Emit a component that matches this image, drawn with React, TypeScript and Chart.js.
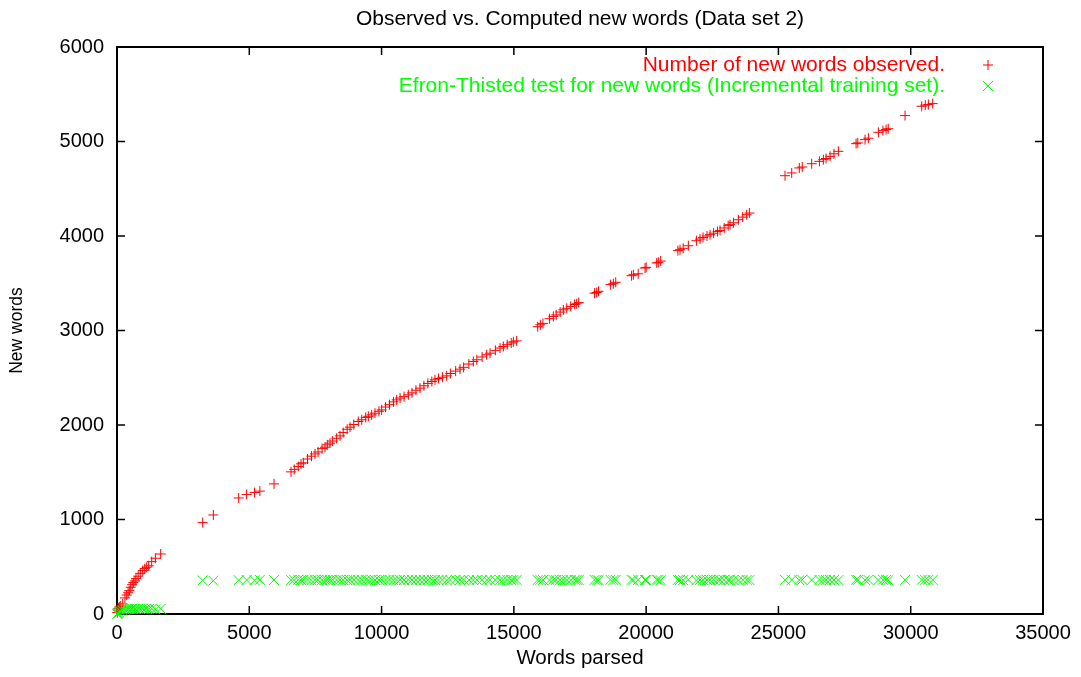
import React, { useEffect, useRef } from "react";
import { Chart, registerables } from "chart.js";

Chart.register(...registerables);

const FONT = "'Liberation Sans', Arial, Helvetica, sans-serif";

const chartTitle = "Observed vs. Computed new words (Data set 2)";
const xAxisLabel = "Words parsed";
const yAxisLabel = "New words";
const observedLabel = "Number of new words observed.";
const efronLabel = "Efron-Thisted test for new words (Incremental training set).";

const xTickValues = [0, 5000, 10000, 15000, 20000, 25000, 30000, 35000];
const yTickValues = [0, 1000, 2000, 3000, 4000, 5000, 6000];

const wordsParsed = [
  10, 30, 50, 90, 140, 215, 300, 365, 420, 465, 518, 570, 616, 680, 718, 800, 880, 971, 1050, 1122, 1200, 1311, 1450, 1651,
  3239, 3641,
  4600, 4900, 5200, 5400, 5935,
  6577, 6700, 6850, 6955, 7043, 7200, 7350, 7484, 7600, 7750,
  7862, 7950, 8051, 8150, 8300, 8429, 8550, 8700, 8807, 8950,
  9121, 9250, 9400, 9500, 9625, 9750, 9900, 10003, 10150, 10300,
  10450, 10570, 10700, 10850, 11011, 11150, 11300, 11453, 11600, 11750,
  11900, 12020, 12150, 12300, 12461, 12600, 12800, 12965, 13100, 13300,
  13469, 13600, 13800, 13973, 14100, 14300, 14477, 14603, 14750, 14900, 14981, 15107,
  15900, 16000, 16100, 16350, 16493, 16600, 16750, 16871, 17000, 17150, 17300, 17375, 17450,
  18050, 18131, 18200, 18650, 18761, 18850, 19450, 19517, 19700, 19958, 20000, 20400, 20462, 20550,
  21200, 21281, 21400, 21596, 21900, 22037, 22150, 22300, 22415, 22550,
  22700, 22793, 22950, 23100, 23171, 23300, 23486, 23650, 23800, 23903,
  25250, 25502, 25789, 25900, 26257, 26550, 26699, 26800, 26951, 27100, 27266, 27935,
  28000, 28274, 28400, 28778, 28950, 29069, 29150, 29786, 30415, 30550, 30667, 30831,
];

const observedNewWords = [
  15, 40, 60, 75, 85, 106, 170, 201, 225, 247, 283, 310, 332, 350, 374, 400, 430, 459, 480, 494, 510, 554, 590, 635,
  967, 1048,
  1228, 1265, 1285, 1300, 1377,
  1504, 1530, 1560, 1589, 1600, 1640, 1670, 1694, 1715, 1750,
  1765, 1790, 1808, 1830, 1860, 1885, 1920, 1955, 1977, 2005,
  2037, 2055, 2080, 2092, 2107, 2125, 2145, 2160, 2190, 2215,
  2245, 2266, 2285, 2300, 2319, 2340, 2368, 2390, 2415, 2440,
  2460, 2478, 2492, 2505, 2520, 2545, 2570, 2591, 2610, 2645,
  2672, 2690, 2720, 2743, 2760, 2790, 2814, 2831, 2850, 2868, 2880, 2890,
  3040, 3060, 3075, 3125, 3149, 3165, 3195, 3219, 3235, 3255, 3275, 3283, 3295,
  3395, 3402, 3415, 3485, 3495, 3510, 3580, 3590, 3600, 3661, 3668, 3715, 3721, 3735,
  3845, 3855, 3870, 3897, 3950, 3968, 3985, 4000, 4014, 4030,
  4048, 4059, 4085, 4110, 4120, 4140, 4172, 4200, 4225, 4243,
  4638, 4667, 4720, 4730, 4765, 4790, 4808, 4820, 4843, 4870, 4896, 4977,
  4985, 5020, 5035, 5097, 5115, 5126, 5135, 5274, 5373, 5385, 5391, 5401,
];

const efronThistedEstimate = [
  0, 5, 12, 20, 28, 38, 45, 50, 52, 55, 50, 55, 52, 55, 50, 55, 52, 55, 50, 55, 52, 55, 50, 55,
  355, 352,
  358, 360, 357, 361, 359,
  358, 360, 362, 359, 361, 360, 358, 362, 360, 359,
  361, 360, 358, 362, 359, 361, 360, 358, 361, 360,
  359, 362, 360, 358, 361, 360, 359, 362, 360, 361,
  358, 360, 361, 359, 362, 360, 358, 361, 360, 359,
  362, 360, 359, 361, 358, 360, 362, 359, 361, 360,
  358, 361, 360, 359, 362, 360, 358, 361, 360, 359, 361, 360,
  359, 361, 360, 358, 362, 360, 359, 361, 360, 358, 361, 360, 359,
  361, 360, 358, 362, 359, 361, 360, 358, 361, 360, 359, 362, 360, 358,
  361, 360, 359, 362, 358, 360, 361, 359, 360, 362,
  358, 361, 360, 359, 362, 360, 358, 361, 360, 359,
  361, 360, 358, 362, 359, 361, 360, 358, 361, 360, 359, 362,
  360, 358, 361, 359, 362, 360, 358, 361, 360, 359, 361, 360,
];

const RED = "#ff0000";
const GREEN = "#00ff00";

const gnuplotPlugin = {
  id: "gnuplotDecor",
  beforeDatasetsDraw(chart: any) {
    const { ctx, chartArea: a, scales } = chart;
    const xs = scales.x;
    const ys = scales.y;
    ctx.save();
    ctx.strokeStyle = "#000";
    ctx.lineWidth = 1.5;
    ctx.beginPath();
    const tl = 8;
    for (const v of xTickValues) {
      const px = xs.getPixelForValue(v);
      ctx.moveTo(px, a.bottom);
      ctx.lineTo(px, a.bottom - tl);
      ctx.moveTo(px, a.top);
      ctx.lineTo(px, a.top + tl);
    }
    for (const v of yTickValues) {
      const py = ys.getPixelForValue(v);
      ctx.moveTo(a.left, py);
      ctx.lineTo(a.left + tl, py);
      ctx.moveTo(a.right, py);
      ctx.lineTo(a.right - tl, py);
    }
    ctx.stroke();
    ctx.lineWidth = 2;
    ctx.strokeRect(a.left, a.top, a.right - a.left, a.bottom - a.top);
    ctx.restore();
  },
  afterDraw(chart: any) {
    const { ctx, chartArea: a } = chart;
    ctx.save();
    ctx.fillStyle = "#000";
    ctx.font = `21px ${FONT}`;
    ctx.textAlign = "center";
    ctx.textBaseline = "middle";
    ctx.fillText(chartTitle, (a.left + a.right) / 2, 19);
    ctx.textAlign = "right";
    const textX = 945;
    const markX = 988;
    const rows = [
      { text: observedLabel, color: RED, style: "plus", y: 65 },
      { text: efronLabel, color: GREEN, style: "x", y: 86 },
    ];
    for (const r of rows) {
      ctx.fillStyle = r.color;
      ctx.fillText(r.text, textX, r.y);
      ctx.strokeStyle = r.color;
      ctx.lineWidth = 1;
      ctx.beginPath();
      if (r.style === "plus") {
        ctx.moveTo(markX - 5, r.y);
        ctx.lineTo(markX + 5, r.y);
        ctx.moveTo(markX, r.y - 5);
        ctx.lineTo(markX, r.y + 5);
      } else {
        ctx.moveTo(markX - 5, r.y - 5);
        ctx.lineTo(markX + 5, r.y + 5);
        ctx.moveTo(markX - 5, r.y + 5);
        ctx.lineTo(markX + 5, r.y - 5);
      }
      ctx.stroke();
    }
    ctx.restore();
  },
};

export default function App() {
  const canvasRef = useRef<HTMLCanvasElement | null>(null);

  useEffect(() => {
    const canvas = canvasRef.current;
    if (!canvas) return;
    const observedData = wordsParsed.map((x, i) => ({ x, y: observedNewWords[i] }));
    const efronData = wordsParsed.map((x, i) => ({ x, y: efronThistedEstimate[i] }));

    const chart = new Chart(canvas, {
      type: "scatter",
      data: {
        datasets: [
          {
            label: observedLabel,
            data: observedData,
            pointStyle: "cross",
            pointRadius: 5,
            pointHoverRadius: 5,
            pointBorderWidth: 1,
            borderColor: RED,
            backgroundColor: RED,
            showLine: false,
            clip: false as any,
            order: 2,
          },
          {
            label: efronLabel,
            data: efronData,
            pointStyle: "crossRot",
            pointRadius: 7,
            pointHoverRadius: 7,
            pointBorderWidth: 1,
            borderColor: GREEN,
            backgroundColor: GREEN,
            showLine: false,
            clip: false as any,
            order: 1,
          },
        ],
      },
      options: {
        responsive: false,
        animation: false,
        devicePixelRatio: 1,
        layout: { padding: { top: 47, right: 38, bottom: 0, left: 0 } },
        plugins: {
          legend: { display: false },
          tooltip: { enabled: false },
          title: { display: false },
        },
        scales: {
          x: {
            type: "linear",
            min: 0,
            max: 35000,
            afterBuildTicks: (s: any) => {
              s.ticks = xTickValues.map((v) => ({ value: v }));
            },
            afterFit: (s: any) => {
              s.height = 63;
            },
            grid: { display: false, drawTicks: false },
            border: { display: false },
            ticks: {
              autoSkip: false,
              maxRotation: 0,
              padding: 7,
              color: "#000",
              font: { family: FONT, size: 20 },
              callback: (v: any) => String(v),
            },
            title: {
              display: true,
              text: xAxisLabel,
              color: "#000",
              font: { family: FONT, size: 20.5 },
              padding: { top: 0, bottom: 6 },
            },
          },
          y: {
            type: "linear",
            min: 0,
            max: 6000,
            afterBuildTicks: (s: any) => {
              s.ticks = yTickValues.map((v) => ({ value: v }));
            },
            afterFit: (s: any) => {
              s.width = 117;
            },
            grid: { display: false, drawTicks: false },
            border: { display: false },
            ticks: {
              autoSkip: false,
              padding: 13,
              color: "#000",
              font: { family: FONT, size: 20 },
              callback: (v: any) => String(v),
            },
            title: {
              display: true,
              text: yAxisLabel,
              color: "#000",
              font: { family: FONT, size: 17.5 },
              padding: { top: 7, bottom: 0 },
            },
          },
        },
      },
      plugins: [gnuplotPlugin],
    } as any);

    return () => {
      chart.destroy();
    };
  }, []);

  return (
    <div style={{ position: "absolute", left: 0, top: 0, width: 1081, height: 677, background: "#fff" }}>
      <canvas ref={canvasRef} width={1081} height={677} style={{ display: "block" }} />
    </div>
  );
}
